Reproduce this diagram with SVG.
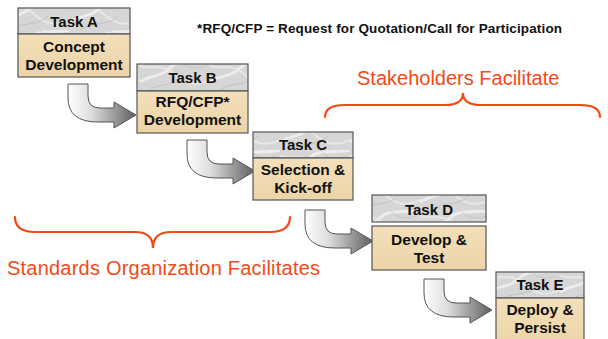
<svg xmlns="http://www.w3.org/2000/svg" width="608" height="339" viewBox="0 0 608 339">
<style>
.hdr{fill:url(#marble);stroke:#555;stroke-width:1.2}
.body{fill:url(#tan);stroke:#555;stroke-width:1.2}
.ht{font-family:"Liberation Sans",Arial,sans-serif;font-weight:bold;font-size:15px;fill:#111;text-anchor:middle}
.bt{font-family:"Liberation Sans",Arial,sans-serif;font-weight:bold;font-size:15.5px;fill:#111;text-anchor:middle}
.arr{fill:url(#ag);stroke:#555;stroke-width:1}
.brace{fill:none;stroke:#f24a17;stroke-width:2.2;stroke-linecap:round}
.lbl{font-family:"Liberation Sans",Arial,sans-serif;font-size:20px;fill:#f24a17}
.note{font-family:"Liberation Sans",Arial,sans-serif;font-weight:bold;font-size:13.5px;fill:#111}
</style>
<defs>
<linearGradient id="tan" x1="0" y1="0" x2="0" y2="1">
<stop offset="0" stop-color="#f3dfb9"/>
<stop offset="1" stop-color="#ecd4a8"/>
</linearGradient>
<linearGradient id="ag" x1="0" y1="0" x2="1" y2="0">
<stop offset="0" stop-color="#ffffff"/>
<stop offset="0.35" stop-color="#dcdcdc"/>
<stop offset="1" stop-color="#5e5e5e"/>
</linearGradient>
<pattern id="marble" patternUnits="userSpaceOnUse" width="70" height="30">
<rect width="70" height="30" fill="#d6d6d6"/>
<path d="M0,22 C12,14 20,18 30,8 S52,4 70,0" fill="none" stroke="#f2f2f2" stroke-width="3" opacity="0.8"/>
<path d="M0,6 C10,10 22,2 34,14 S58,26 70,20" fill="none" stroke="#ebebeb" stroke-width="2" opacity="0.8"/>
<path d="M10,30 C20,22 40,26 48,16" fill="none" stroke="#bdbdbd" stroke-width="0.8"/>
<path d="M40,0 C46,8 56,10 66,6" fill="none" stroke="#c2c2c2" stroke-width="0.8"/>
</pattern>
<path id="arrow" d="M0,0 H20 V12 Q20,24 32,24 H46 V18 L68,31 L46,44 V38 H30 Q0,38 0,14 Z"/>
</defs>

<text class="note" x="197" y="33" textLength="365">*RFQ/CFP = Request for Quotation/Call for Participation</text>

<g id="connectors">
<use href="#arrow" class="arr" x="68" y="84"/>
<use href="#arrow" class="arr" x="187" y="140"/>
<use href="#arrow" class="arr" x="305" y="210"/>
<use href="#arrow" class="arr" x="424" y="279"/>
</g>

<g id="taskA">
<rect class="hdr" x="18" y="8" width="112" height="26"/>
<rect class="body" x="18" y="34" width="112" height="43"/>
<text class="ht" x="74" y="27">Task A</text>
<text class="bt" x="74" y="52">Concept</text>
<text class="bt" x="74" y="70">Development</text>
</g>

<g id="taskB">
<rect class="hdr" x="137" y="64" width="111" height="27"/>
<rect class="body" x="137" y="91" width="111" height="42"/>
<text class="ht" x="192.5" y="83">Task B</text>
<text class="bt" x="192.5" y="107">RFQ/CFP*</text>
<text class="bt" x="192.5" y="125">Development</text>
</g>

<g id="taskC">
<rect class="hdr" x="253" y="132" width="100" height="26"/>
<rect class="body" x="253" y="158" width="100" height="42"/>
<text class="ht" x="303" y="150">Task C</text>
<text class="bt" x="303" y="175">Selection &amp;</text>
<text class="bt" x="303" y="193">Kick-off</text>
</g>

<g id="taskD">
<rect class="hdr" x="372" y="195" width="114" height="27"/>
<rect class="body" x="372" y="226" width="114" height="44"/>
<text class="ht" x="429" y="215">Task D</text>
<text class="bt" x="429" y="245">Develop &amp;</text>
<text class="bt" x="429" y="263">Test</text>
</g>

<g id="taskE">
<rect class="hdr" x="496" y="272" width="88" height="26"/>
<rect class="body" x="496" y="298" width="88" height="48"/>
<text class="ht" x="540" y="290">Task E</text>
<text class="bt" x="540" y="315">Deploy &amp;</text>
<text class="bt" x="540" y="333">Persist</text>
</g>

<g id="stakeholders">
<path class="brace" d="M325,117 Q325,105 345,105 H445 Q463,105 463,93 Q463,105 481,105 H580 Q600,105 600,117"/>
<text class="lbl" x="357" y="85">Stakeholders Facilitate</text>
</g>

<g id="standards">
<path class="brace" d="M15,217 Q15,232 35,232 H135 Q153,232 153,248 Q153,232 171,232 H270 Q290,232 290,217"/>
<text class="lbl" x="7" y="275" textLength="313">Standards Organization Facilitates</text>
</g>
</svg>
